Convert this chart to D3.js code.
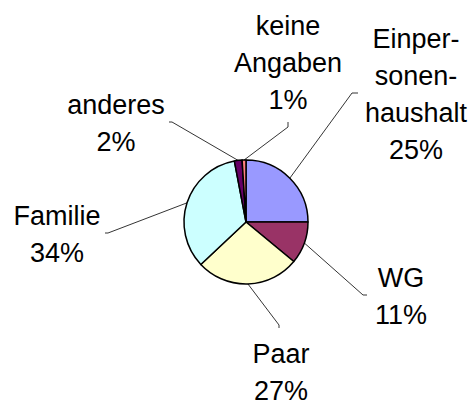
<!DOCTYPE html>
<html>
<head>
<meta charset="utf-8">
<script src="https://cdn.jsdelivr.net/npm/d3@7"></script>
<style>
  body { margin: 0; background: #fff; }
  svg { display: block; }
</style>
</head>
<body>
<svg id="chart" width="474" height="405"></svg>
<script>
// --- data ---
const categories = ["Einpersonenhaushalt", "WG", "Paar", "Familie", "anderes", "keine Angaben"];
const values = [25, 11, 27, 34, 2, 1];
const colors = ["#9999FF", "#993366", "#FFFFCC", "#CCFFFF", "#660066", "#FF8080"];
// label text lines (as printed in the chart)
const labelLines = [
  ["Einper-", "sonen-", "haushalt"],
  ["WG"],
  ["Paar"],
  ["Familie"],
  ["anderes"],
  ["keine", "Angaben"]
];

// --- layout: label block centre x, first baseline y, leader elbow point ---
const labelLayout = [
  { x: 416, y: 48,  elbow: [352, 93],  tail: [358, 93] },
  { x: 401, y: 287, elbow: [363, 295], tail: [367, 295] },
  { x: 281, y: 363, elbow: [279, 325], tail: [279, 328] },
  { x: 57,  y: 225, elbow: [108, 233], tail: [105, 233] },
  { x: 116, y: 114, elbow: [172, 122], tail: [169, 122] },
  { x: 288, y: 35,  elbow: [288, 127], tail: [288, 122] }
];

const svg = d3.select("#chart");
const cx = 246, cy = 222, R = 62;
const lineH = 37;

const pie = d3.pie().sort(null).value(d => d)(values);
const arc = d3.arc().innerRadius(0).outerRadius(R);

const g = svg.append("g").attr("transform", `translate(${cx},${cy})`);

// slices
g.selectAll("path.slice")
  .data(pie)
  .join("path")
  .attr("class", "slice")
  .attr("d", arc)
  .attr("fill", (d, i) => colors[i])
  .attr("stroke", "#000")
  .attr("stroke-width", 1.5)
  .attr("stroke-linejoin", "round");

// leader lines: from the slice's outer edge midpoint to the label elbow
pie.forEach((d, i) => {
  const a = (d.startAngle + d.endAngle) / 2;
  const p0 = [cx + R * Math.sin(a), cy - R * Math.cos(a)];
  const L = labelLayout[i];
  svg.append("polyline")
    .attr("points", [p0, L.elbow, L.tail].map(p => p.join(",")).join(" "))
    .attr("fill", "none")
    .attr("stroke", "#000")
    .attr("stroke-width", 0.8);
});

// labels
const fmt = v => Math.round(v) + "%";
const total = d3.sum(values);
categories.forEach((c, i) => {
  const L = labelLayout[i];
  const lines = labelLines[i].concat([fmt(values[i] / total * 100)]);
  const t = svg.append("text")
    .attr("text-anchor", "middle")
    .attr("font-family", "Liberation Sans, Arial, sans-serif")
    .attr("font-size", 27)
    .attr("fill", "#000");
  lines.forEach((s, k) => {
    t.append("tspan").attr("x", L.x).attr("y", L.y + k * lineH).text(s);
  });
});
</script>
</body>
</html>
